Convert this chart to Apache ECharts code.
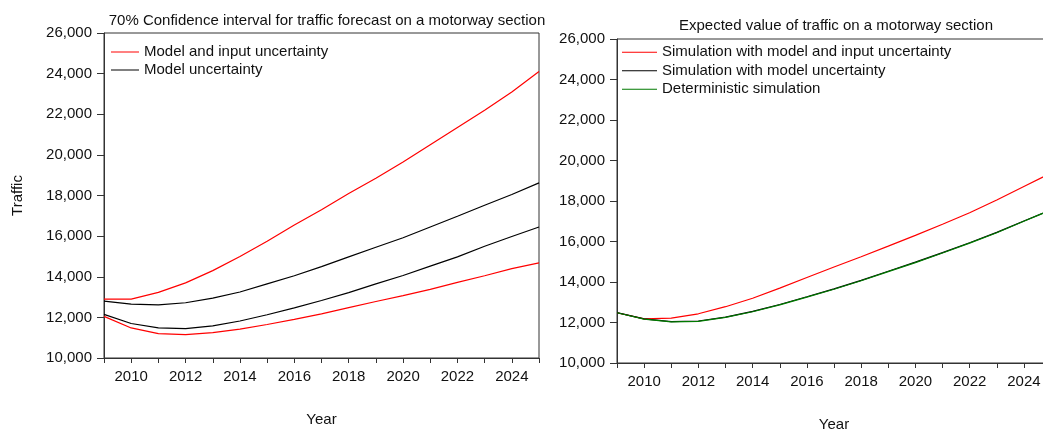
<!DOCTYPE html>
<html>
<head>
<meta charset="utf-8">
<script src="https://cdn.jsdelivr.net/npm/echarts@6/dist/echarts.min.js"></script>
<style>
  html, body { margin: 0; padding: 0; background: #fff; }
  #chart { width: 1043px; height: 431px; }
</style>
</head>
<body>
<div id="chart"></div>
<script>
// Forecast years
const years = [2009, 2010, 2011, 2012, 2013, 2014, 2015, 2016, 2017, 2018, 2019, 2020, 2021, 2022, 2023, 2024, 2025];

// 70% confidence bands (left panel)
const fullUpper  = [12900, 12900, 13230, 13700, 14300, 15000, 15750, 16550, 17300, 18100, 18850, 19650, 20500, 21350, 22200, 23100, 24100];
const fullLower  = [12050, 11480, 11200, 11150, 11250, 11420, 11650, 11900, 12170, 12480, 12780, 13070, 13380, 13720, 14050, 14400, 14680];
const modelUpper = [12800, 12650, 12620, 12720, 12950, 13250, 13650, 14050, 14500, 14980, 15450, 15920, 16450, 16980, 17520, 18050, 18620];
const modelLower = [12150, 11700, 11480, 11450, 11580, 11820, 12130, 12470, 12830, 13220, 13650, 14060, 14520, 14980, 15500, 15980, 16450];

// Expected values (right panel)
const simFull    = [12480, 12180, 12220, 12430, 12780, 13200, 13700, 14220, 14740, 15250, 15770, 16300, 16850, 17420, 18050, 18720, 19380];
const simModel   = [12490, 12180, 12045, 12075, 12265, 12550, 12890, 13270, 13660, 14080, 14530, 14980, 15450, 15940, 16450, 17010, 17570];
const simDeterm  = [12480, 12170, 12030, 12060, 12250, 12530, 12870, 13250, 13640, 14060, 14510, 14960, 15430, 15920, 16430, 17000, 17560];

const yTicks = { min: 10000, max: 26000, interval: 2000 };

const FONT = 'Liberation Sans, Arial, sans-serif';
const FS = 15;
const AXIS_COLOR = '#333';
const TEXT_COLOR = '#111';

const pairs = arr => years.map((y, i) => [y, arr[i]]);
const fmtThousands = v => v.toLocaleString('en-US');

function xAxis(gridIndex) {
  return {
    type: 'value', gridIndex, min: 2009, max: 2025, interval: 1,
    name: 'Year', nameLocation: 'middle', nameGap: 54,
    nameTextStyle: { fontFamily: FONT, fontSize: FS, color: TEXT_COLOR },
    axisLine: { lineStyle: { color: AXIS_COLOR, width: 1 } },
    axisTick: { length: 5, lineStyle: { color: AXIS_COLOR } },
    axisLabel: {
      fontFamily: FONT, fontSize: FS, color: TEXT_COLOR, margin: 11,
      formatter: v => (v % 2 === 0 ? String(v) : ''),
      showMinLabel: true, showMaxLabel: true
    },
    splitLine: { show: false }
  };
}

function yAxis(gridIndex, name) {
  return {
    type: 'value', gridIndex, min: yTicks.min, max: yTicks.max, interval: yTicks.interval,
    name: name, nameLocation: 'middle', nameGap: 79,
    nameTextStyle: { fontFamily: FONT, fontSize: FS, color: TEXT_COLOR },
    axisLine: { show: true, lineStyle: { color: AXIS_COLOR, width: 1 } },
    axisTick: { show: true, length: 7, lineStyle: { color: AXIS_COLOR } },
    axisLabel: { fontFamily: FONT, fontSize: FS, color: TEXT_COLOR, margin: 12, formatter: fmtThousands },
    splitLine: { show: false }
  };
}

function line(name, data, color, xi, yi) {
  return {
    type: 'line', name, data: pairs(data), xAxisIndex: xi, yAxisIndex: yi,
    symbol: 'none', smooth: false, animation: false,
    lineStyle: { color, width: 1.2 }, itemStyle: { color }
  };
}

const chart = echarts.init(document.getElementById('chart'), null, { renderer: 'canvas' });

chart.setOption({
  backgroundColor: '#fff',
  animation: false,
  title: [
    {
      text: '70% Confidence interval for traffic forecast on a motorway section',
      left: 327, top: 13, textAlign: 'center', padding: 0,
      textStyle: { fontFamily: FONT, fontSize: FS, fontWeight: 'normal', color: TEXT_COLOR }
    },
    {
      text: 'Expected value of traffic on a motorway section',
      left: 836, top: 18, textAlign: 'center', padding: 0,
      textStyle: { fontFamily: FONT, fontSize: FS, fontWeight: 'normal', color: TEXT_COLOR }
    }
  ],
  grid: [
    { left: 104, top: 33, width: 435, height: 325, outerBoundsMode: 'none', containLabel: false,
      show: true, borderColor: AXIS_COLOR, borderWidth: 1, backgroundColor: 'transparent' },
    { left: 617, top: 39, width: 434, height: 324, outerBoundsMode: 'none', containLabel: false,
      show: true, borderColor: AXIS_COLOR, borderWidth: 1, backgroundColor: 'transparent' }
  ],
  xAxis: [xAxis(0), xAxis(1)],
  yAxis: [yAxis(0, 'Traffic'), yAxis(1, '')],
  legend: [
    {
      data: ['Model and input uncertainty', 'Model uncertainty'],
      orient: 'vertical', left: 111, top: 43, itemGap: 0, padding: 0,
      itemWidth: 28, itemHeight: 1, icon: 'rect', selectedMode: false,
      textStyle: { fontFamily: FONT, fontSize: FS, color: TEXT_COLOR, lineHeight: 18 }
    },
    {
      data: ['Simulation with model and input uncertainty', 'Simulation with model uncertainty', 'Deterministic simulation'],
      orient: 'vertical', left: 622, top: 43, itemGap: 0, padding: 0,
      itemWidth: 35, itemHeight: 1, icon: 'rect', selectedMode: false,
      textStyle: { fontFamily: FONT, fontSize: FS, color: TEXT_COLOR, lineHeight: 18.5 }
    }
  ],
  series: [
    line('Model and input uncertainty', fullUpper, '#ff0000', 0, 0),
    line('Model and input uncertainty', fullLower, '#ff0000', 0, 0),
    line('Model uncertainty', modelUpper, '#000000', 0, 0),
    line('Model uncertainty', modelLower, '#000000', 0, 0),
    line('Simulation with model and input uncertainty', simFull, '#ff0000', 1, 1),
    line('Simulation with model uncertainty', simModel, '#000000', 1, 1),
    line('Deterministic simulation', simDeterm, '#007a00', 1, 1)
  ]
});
</script>
</body>
</html>
